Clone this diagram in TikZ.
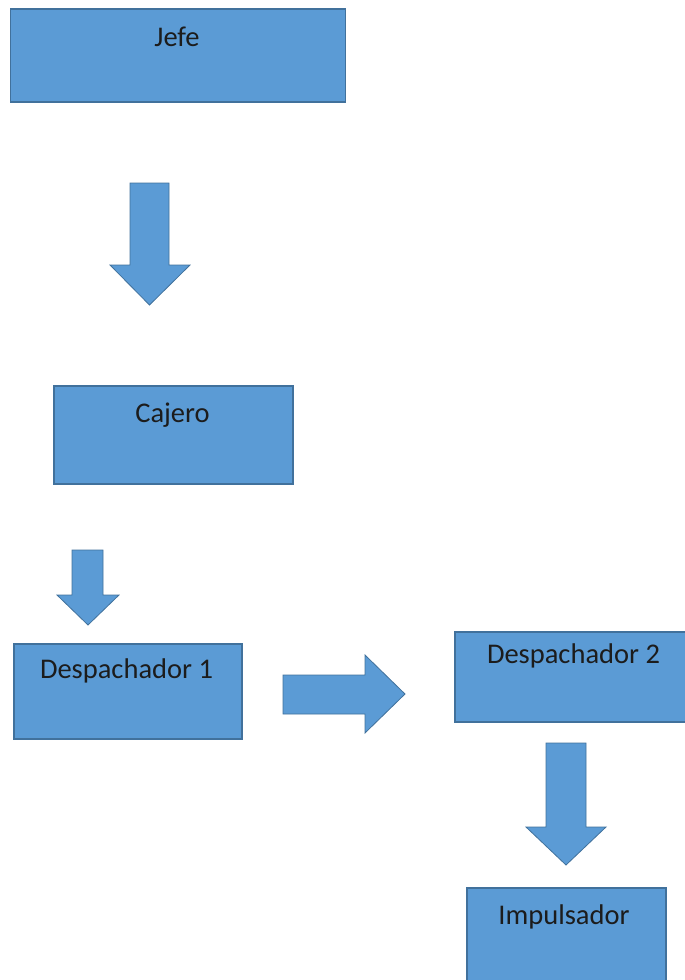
\documentclass[tikz,border=0pt]{standalone}
\usepackage{fontspec}
\setmainfont{Carlito}
\definecolor{boxfill}{HTML}{5B9BD5}
\definecolor{boxline}{HTML}{41719C}
\definecolor{txt}{HTML}{1C1C1C}
\begin{document}
\begin{tikzpicture}[x=1pt,y=-1pt,
  box/.style={draw=boxline, fill=boxfill, line width=1.3pt, inner sep=0pt},
  blockarrow/.style={draw=boxline, fill=boxfill, line width=0.8pt, line join=miter},
  lbl/.style={anchor=base, inner sep=0pt, text=txt, font=\fontsize{28.5}{34}\selectfont}]
\useasboundingbox (0,0) rectangle (685,980);
\clip (0,0) rectangle (685,980);
% boxes
\node[box, minimum width=335, minimum height=93] (jefe) at (178,55.5) {};
\node[box, minimum width=239, minimum height=98] (cajero) at (173.5,435) {};
\node[box, minimum width=228, minimum height=95] (desp1) at (128,691.5) {};
\node[box, minimum width=240, minimum height=90] (desp2) at (575,677) {};
\node[box, minimum width=199, minimum height=107] (impuls) at (566.5,941.5) {};
% labels
\node[lbl] (tjefe) at ([xshift=-1pt,yshift=-38pt]jefe.north) {Jefe};
\node[lbl] (tcajero) at ([xshift=-1pt,yshift=-37pt]cajero.north) {Cajero};
\node[lbl] (tdesp1) at ([xshift=-1.5pt,yshift=-35pt]desp1.north) {Despachador 1};
\node[lbl] (tdesp2) at ([xshift=-1.5pt,yshift=-32pt]desp2.north) {Despachador 2};
\node[lbl] (timpuls) at ([xshift=-2.5pt,yshift=-37pt]impuls.north) {Impulsador};
% block arrows
\draw[blockarrow] (130,183) -- (169,183) -- (169,265) -- (190,265) -- (149.5,305)
  -- (110,265) -- (130,265) -- cycle;
\draw[blockarrow] (72,550) -- (103,550) -- (103,595) -- (119,595) -- (88,625)
  -- (57,595) -- (72,595) -- cycle;
\draw[blockarrow] (283,675) -- (365,675) -- (365,655) -- (405,694) -- (365,733)
  -- (365,714) -- (283,714) -- cycle;
\draw[blockarrow] (546,743) -- (586,743) -- (586,827) -- (606,827) -- (566,865)
  -- (526,827) -- (546,827) -- cycle;
\end{tikzpicture}
\end{document}
